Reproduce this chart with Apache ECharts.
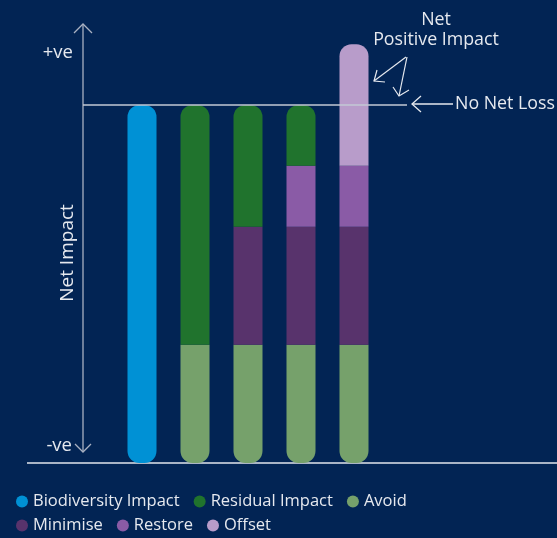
<!DOCTYPE html>
<html>
<head>
<meta charset="utf-8">
<script src="https://cdn.jsdelivr.net/npm/echarts@6/dist/echarts.min.js"></script>
<style>
  html, body { margin: 0; padding: 0; background: #022454; }
  #chart { width: 557px; height: 538px; }
</style>
</head>
<body>
<div id="chart"></div>
<script>
var mychart = echarts.init(document.getElementById('chart'));

// stages (no labels shown on the axis)
const stages = ['Impact', 'Residual', 'Mitigated', 'Restored', 'Offset'];
// stacked amounts, bottom to top
const biodiversity = [100, '-', '-', '-', '-'];
const avoid        = ['-', 33, 33, 33, 33];
const minimise     = ['-', '-', 33, 33, 33];
const restore      = ['-', '-', '-', 17, 17];
const residual     = ['-', 67, 34, 17, '-'];
const offset       = ['-', '-', '-', '-', 34];
const noNetLoss = 100;

const stackOrder = [
    { name: 'Biodiversity Impact', values: biodiversity, color: '#0091d5' },
    { name: 'Avoid', values: avoid, color: '#76a16b' },
    { name: 'Minimise', values: minimise, color: '#58336c' },
    { name: 'Restore', values: restore, color: '#8a5ba6' },
    { name: 'Residual Impact', values: residual, color: '#20732d' },
    { name: 'Offset', values: offset, color: '#b89cca' }
];

const R = 12;
function has(v) { return v !== '-' && v != null; }

// round the bottom of the lowest segment and the top of the highest one
const series = stackOrder.map(function (s, si) {
    return {
        name: s.name,
        type: 'bar',
        stack: 'total',
        barWidth: 29,
        itemStyle: { color: s.color },
        data: s.values.map(function (v, i) {
            if (!has(v)) return '-';
            let below = false, above = false;
            stackOrder.forEach(function (o, oi) {
                if (has(o.values[i])) {
                    if (oi < si) below = true;
                    if (oi > si) above = true;
                }
            });
            return {
                value: v,
                itemStyle: {
                    borderRadius: [above ? 0 : R, above ? 0 : R, below ? 0 : R, below ? 0 : R]
                }
            };
        })
    };
});

series[series.length - 1].markLine = {
    silent: true,
    symbol: 'none',
    label: { show: false },
    lineStyle: { color: '#c3c9d4', width: 1.5, type: 'solid' },
    data: [[{ x: 83, yAxis: noNetLoss }, { x: 407, yAxis: noNetLoss }]]
};

const txt = '#e6e9ef';
const axisCol = '#a9b1c2';
const font = 'Open Sans';

function line(points, color, w) {
    return { type: 'polyline', silent: true, shape: { points: points },
        style: { stroke: color, lineWidth: w || 1.3, fill: null } };
}
function label(text, x, y, align, size, rot) {
    return { type: 'text', x: x, y: y, rotation: rot || 0, silent: true,
        style: { text: text, fill: txt, fontSize: size || 16, fontFamily: font,
            align: align || 'center', verticalAlign: 'middle' } };
}

option = {
    backgroundColor: '#022454',
    animation: false,
    textStyle: { fontFamily: font },
    grid: { left: 115.5, right: 176.5, top: 33.4, bottom: 75 },
    xAxis: {
        type: 'category',
        data: stages,
        axisLine: { show: false },
        axisTick: { show: false },
        axisLabel: { show: false }
    },
    yAxis: {
        type: 'value',
        min: 0,
        max: 120,
        show: false
    },
    legend: [
        {
            data: ['Biodiversity Impact', 'Residual Impact', 'Avoid'],
            left: 11, top: 488,
            icon: 'circle', itemWidth: 12, itemHeight: 12, itemGap: 14,
            textStyle: { color: txt, fontSize: 16.5, fontFamily: font }
        },
        {
            data: ['Minimise', 'Restore', 'Offset'],
            left: 11, top: 512,
            icon: 'circle', itemWidth: 12, itemHeight: 12, itemGap: 14,
            textStyle: { color: txt, fontSize: 16.5, fontFamily: font }
        }
    ],
    graphic: [
        // vertical axis with open arrow heads
        line([[83, 24], [83, 452]], axisCol, 1.3),
        line([[74, 33], [83, 24], [92, 33]], axisCol, 1.3),
        line([[75, 444], [83, 452], [91, 444]], axisCol, 1.3),
        // baseline
        line([[27, 463], [557, 463]], '#e3e6ec', 1.5),
        // No Net Loss arrow
        line([[412, 104], [453, 104]], txt, 1.3),
        line([[421, 96], [412, 104], [421, 112]], txt, 1.3),
        // Net Positive Impact arrows
        line([[406, 57], [374, 81]], txt, 1.2),
        line([[385, 82], [374, 81], [377, 70]], txt, 1.2),
        line([[407, 57], [399, 96]], txt, 1.2),
        line([[393, 87], [399, 96], [409, 90]], txt, 1.2),
        label('+ve', 73, 53, 'right', 18.5),
        label('-ve', 72, 446, 'right', 18.5),
        label('Net Impact', 68, 253, 'center', 19, Math.PI / 2),
        label('Net', 436, 20, 'center', 17.8),
        label('Positive Impact', 436, 40, 'center', 17.8),
        label('No Net Loss', 455, 104, 'left', 17.8)
    ],
    series: series
};
mychart.setOption(option, true);
</script>
</body>
</html>
